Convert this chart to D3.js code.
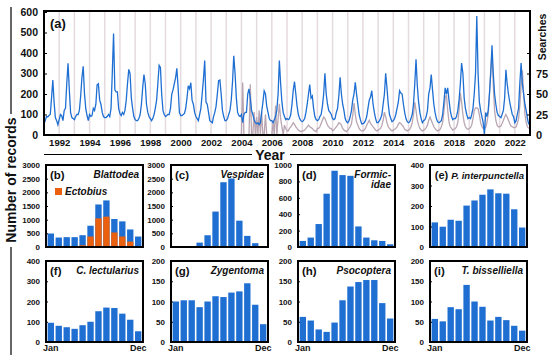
<!DOCTYPE html>
<html>
<head>
<meta charset="utf-8">
<script src="https://cdn.jsdelivr.net/npm/d3@7"></script>
<style>
  body { margin: 0; background: #fff; }
  svg text { font-family: "Liberation Sans", Arial, sans-serif; font-weight: bold; fill: #111; }
</style>
</head>
<body>
<svg id="chart" width="550" height="360"></svg>
<script>
// monthly number of records, Jan..Dec, one row per year
const recordYears = d3.range(1991, 2023);
const monthlyRecords = [
  [55,70,90,88,95,100,180,268,160,85,70,50],
  [75,100,95,70,120,130,250,350,220,110,85,80],
  [75,90,100,100,120,190,280,335,200,130,95,70],
  [100,90,95,130,120,150,245,250,170,150,110,90],
  [85,85,90,100,90,130,300,495,220,210,210,130],
  [105,95,110,100,120,170,250,320,300,180,130,90],
  [75,70,70,80,100,150,230,295,250,150,110,90],
  [80,70,80,100,130,170,250,340,330,200,120,100],
  [90,95,100,100,130,200,220,250,280,325,230,110],
  [95,95,100,105,130,180,240,225,255,170,150,110],
  [90,80,70,100,130,200,270,363,160,150,110,70],
  [65,60,90,110,140,200,265,268,200,120,90,70],
  [70,80,100,120,170,260,386,300,180,110,95,90],
  [100,60,100,110,110,200,225,180,120,100,75,60],
  [55,60,50,60,110,160,215,200,140,110,80,70],
  [70,60,75,90,120,200,363,250,160,110,90,75],
  [80,75,80,100,150,220,260,200,140,100,80,70],
  [65,70,80,110,150,200,246,180,190,130,90,75],
  [70,75,90,100,140,200,301,200,150,120,110,100],
  [80,75,80,110,130,190,282,200,150,120,80,65],
  [60,70,90,120,170,200,257,200,150,100,75,55],
  [55,60,70,90,130,170,185,216,150,110,80,60],
  [60,70,80,100,150,200,301,230,150,100,80,65],
  [70,80,100,130,160,216,205,200,150,110,80,65],
  [60,65,80,100,150,250,369,240,160,110,80,60],
  [70,75,90,120,200,230,295,220,150,110,80,65],
  [60,65,70,100,160,230,200,230,170,120,90,75],
  [80,80,90,120,170,250,351,300,180,130,100,80],
  [85,80,100,130,200,300,580,300,160,120,90,60],
  [5,110,90,120,200,300,438,300,200,150,110,95],
  [90,85,100,120,180,318,250,200,160,130,100,90],
  [60,70,100,130,250,351,250,200,150,120,80,52]
];

// monthly search interest (right axis), 2004..2022
const searchYears = d3.range(2004, 2023);
const monthlySearches = [
  [0,64,0,0,0,0,0,62,0,0,28,0],
  [22,0,30,0,28,0,0,25,0,0,0,0],
  [0,15,0,36,0,20,38,20,10,0,12,8],
  [5,5,8,10,12,15,13,10,8,6,5,4],
  [5,5,6,8,10,12,10,9,8,6,5,4],
  [8,8,10,14,18,22,20,16,12,10,8,8],
  [5,6,8,10,12,15,14,12,8,6,5,4],
  [6,8,10,14,24,39,25,16,12,8,6,5],
  [5,6,8,12,15,18,14,12,10,8,6,5],
  [6,7,8,12,18,28,22,15,10,8,6,5],
  [6,7,8,10,13,15,14,12,10,7,6,5],
  [6,7,10,15,25,40,30,18,12,8,6,5],
  [6,7,9,12,18,22,18,14,10,8,6,5],
  [6,7,10,15,28,45,49,30,16,10,8,6],
  [7,8,10,15,30,51,40,25,15,10,8,7],
  [8,9,12,20,30,33,33,32,25,15,10,8],
  [8,9,15,25,50,80,100,60,30,18,12,10],
  [10,11,14,18,22,25,22,18,14,11,10,9],
  [9,10,14,20,35,60,79,50,25,15,10,8]
];

// totals per calendar month for the small panels
const months = ["Jan","Feb","Mar","Apr","May","Jun","Jul","Aug","Sep","Oct","Nov","Dec"];
const blattodea = [494,346,360,360,432,778,1556,1704,1025,938,642,383];
const ectobius = [15,15,20,15,65,383,1049,1111,531,383,198,20];
const vespidae = [20,25,30,160,430,1296,2370,2506,963,407,140,30];
const formicidae = [74,115,280,650,930,877,868,251,115,82,74,33];
const interpunctella = [120,99,133,128,202,227,255,281,262,260,184,95];
const lectularius = [95,80,73,65,83,100,152,170,168,140,110,53];
const zygentoma = [100,103,103,86,100,113,111,122,125,145,92,44];
const psocoptera = [62,53,31,25,48,103,137,148,153,153,96,58];
const bisselliella = [57,51,86,81,141,100,87,53,62,54,40,28];

const blue = "#1f6fd3";
const orange = "#ea600e";

const svg = d3.select("#chart");

// ---------- panel (a) ----------
const aLeft = 44, aRight = 530, aTop = 11, aBottom = 135;
const x = d3.scaleTime().domain([new Date(1991, 0, 1), new Date(2023, 0, 1)]).range([aLeft, aRight]);
const yL = d3.scaleLinear().domain([0, 600]).range([aBottom, 12]);
const yR = d3.scaleLinear().domain([0, 150]).range([aBottom, 12]);

svg.append("g").selectAll("line")
  .data(d3.timeYears(new Date(1992, 0, 1), new Date(2023, 0, 1)))
  .join("line")
  .attr("x1", d => x(d)).attr("x2", d => x(d))
  .attr("y1", aTop).attr("y2", aBottom)
  .attr("stroke", "#e4dadf").attr("stroke-width", 1.5);

const records = recordYears.flatMap((yr, i) => monthlyRecords[i].map((v, m) => ({ date: new Date(yr, m, 1), value: v })));
const searches = searchYears.flatMap((yr, i) => monthlySearches[i].map((v, m) => ({ date: new Date(yr, m, 1), value: v })));

svg.append("path").datum(searches)
  .attr("fill", "none").attr("stroke", "#b9a6b2").attr("stroke-width", 1.3)
  .attr("d", d3.line().x(d => x(d.date)).y(d => yR(d.value)));

svg.append("path").datum(records)
  .attr("fill", "none").attr("stroke", blue).attr("stroke-width", 1.3)
  .attr("d", d3.line().x(d => x(d.date)).y(d => yL(d.value)));

svg.append("rect")
  .attr("x", aLeft).attr("y", aTop).attr("width", aRight - aLeft).attr("height", aBottom - aTop)
  .attr("fill", "none").attr("stroke", "#000").attr("stroke-width", 2);

const axL = svg.append("g").attr("transform", `translate(${aLeft},0)`)
  .call(d3.axisLeft(yL).tickValues(d3.range(0, 601, 100)).tickSize(-3).tickPadding(6));
axL.select(".domain").remove();
axL.selectAll("text").attr("font-size", 10.5);

const axR = svg.append("g").attr("transform", `translate(${aRight},0)`)
  .call(d3.axisRight(yR).tickValues([0, 25, 50, 75, 100]).tickFormat(d => d === 100 ? "" : d).tickSize(-3).tickPadding(6));
axR.select(".domain").remove();
axR.selectAll("text").attr("font-size", 11);

const axB = svg.append("g").attr("transform", `translate(0,${aBottom})`)
  .call(d3.axisBottom(x).ticks(d3.timeYear.every(2)).tickFormat(d3.timeFormat("%Y")).tickSize(0).tickPadding(4));
axB.select(".domain").remove();
axB.selectAll("text").attr("font-size", 9.5);

svg.append("text").attr("x", 50).attr("y", 28).attr("font-size", 13).text("(a)");

svg.append("text")
  .attr("transform", "translate(546,37) rotate(-90)")
  .attr("text-anchor", "middle").attr("font-size", 10.5).attr("font-weight", "normal")
  .text("Searches");

// "Year" title with rules
svg.append("text").attr("x", 270).attr("y", 159.5).attr("text-anchor", "middle").attr("font-size", 14).text("Year");
svg.append("line").attr("x1", 44).attr("x2", 252).attr("y1", 154.5).attr("y2", 154.5).attr("stroke", "#000").attr("stroke-width", 1.2);
svg.append("line").attr("x1", 290).attr("x2", 522).attr("y1", 154.5).attr("y2", 154.5).attr("stroke", "#000").attr("stroke-width", 1.2);

// "Number of records" with rules
svg.append("text")
  .attr("transform", "translate(16,180) rotate(-90)")
  .attr("text-anchor", "middle").attr("font-size", 14).text("Number of records");
svg.append("line").attr("x1", 11).attr("x2", 11).attr("y1", 7).attr("y2", 114).attr("stroke", "#000").attr("stroke-width", 1.2);
svg.append("line").attr("x1", 11).attr("x2", 11).attr("y1", 247).attr("y2", 355).attr("stroke", "#000").attr("stroke-width", 1.2);

// ---------- small panels ----------
const cols = [46, 171, 298, 430];
const rows = [[165, 247], [261, 342]];
const panelW = 97;

const panels = [
  { col: 0, row: 0, tag: "(b)", name: "Blattodea", values: blattodea, sub: ectobius, max: 3000, step: 500 },
  { col: 1, row: 0, tag: "(c)", name: "Vespidae", values: vespidae, max: 3000, step: 500 },
  { col: 2, row: 0, tag: "(d)", name: ["Formic-", "idae"], values: formicidae, max: 1000, step: 200 },
  { col: 3, row: 0, tag: "(e)", name: "P. interpunctella", values: interpunctella, max: 400, step: 100, inline: true },
  { col: 0, row: 1, tag: "(f)", name: "C. lectularius", values: lectularius, max: 400, step: 100 },
  { col: 1, row: 1, tag: "(g)", name: "Zygentoma", values: zygentoma, max: 200, step: 50 },
  { col: 2, row: 1, tag: "(h)", name: "Psocoptera", values: psocoptera, max: 200, step: 50 },
  { col: 3, row: 1, tag: "(i)", name: "T. bisselliella", values: bisselliella, max: 200, step: 50 }
];

panels.forEach(p => {
  const x0 = cols[p.col];
  const [y0, y1] = rows[p.row];
  const g = svg.append("g");
  const bx = d3.scaleBand().domain(months).range([x0 + 1, x0 + panelW - 1]).paddingInner(0.2).paddingOuter(0.08);
  const by = d3.scaleLinear().domain([0, p.max]).range([y1, y0]);

  g.selectAll("rect.total").data(p.values).join("rect")
    .attr("x", (d, i) => bx(months[i])).attr("width", bx.bandwidth())
    .attr("y", d => by(d)).attr("height", d => y1 - by(d))
    .attr("fill", blue);

  if (p.sub) {
    g.selectAll("rect.sub").data(p.sub).join("rect")
      .attr("x", (d, i) => bx(months[i])).attr("width", bx.bandwidth())
      .attr("y", d => by(d)).attr("height", d => y1 - by(d))
      .attr("fill", orange);
    g.append("rect").attr("x", x0 + 9).attr("y", y0 + 23).attr("width", 7).attr("height", 7).attr("fill", orange);
    g.append("text").attr("x", x0 + 19).attr("y", y0 + 30).attr("font-size", 10)
      .attr("font-weight", "normal").attr("font-style", "italic").text("Ectobius");
  }

  g.append("rect")
    .attr("x", x0).attr("y", y0).attr("width", panelW).attr("height", y1 - y0)
    .attr("fill", "none").attr("stroke", "#000").attr("stroke-width", 2);

  const ax = g.append("g").attr("transform", `translate(${x0},0)`)
    .call(d3.axisLeft(by).tickValues(d3.range(0, p.max + 1, p.step)).tickFormat(d3.format("d")).tickSize(-2).tickPadding(6));
  ax.select(".domain").remove();
  ax.selectAll("text").attr("font-size", 8);

  if (p.inline) {
    const t = g.append("text").attr("x", x0 + panelW - 3).attr("y", y0 + 14).attr("text-anchor", "end");
    t.append("tspan").attr("font-size", 11).text("(e) ");
    t.append("tspan").attr("font-size", 9.5).attr("font-style", "italic").text(p.name);
  } else {
    g.append("text").attr("x", x0 + 4).attr("y", y0 + 14).attr("font-size", 11.5).text(p.tag);
    const names = Array.isArray(p.name) ? p.name : [p.name];
    names.forEach((n, k) => {
      g.append("text").attr("x", x0 + panelW - 4).attr("y", y0 + 13 + k * 9.5)
        .attr("text-anchor", "end").attr("font-size", 10).attr("font-style", "italic").text(n);
    });
  }

  if (p.row === 1) {
    [months[0], months[11]].forEach(m => {
      g.append("text").attr("x", bx(m) + bx.bandwidth() / 2).attr("y", 351)
        .attr("text-anchor", "middle").attr("font-size", 9).text(m);
    });
  }
});
</script>
</body>
</html>
